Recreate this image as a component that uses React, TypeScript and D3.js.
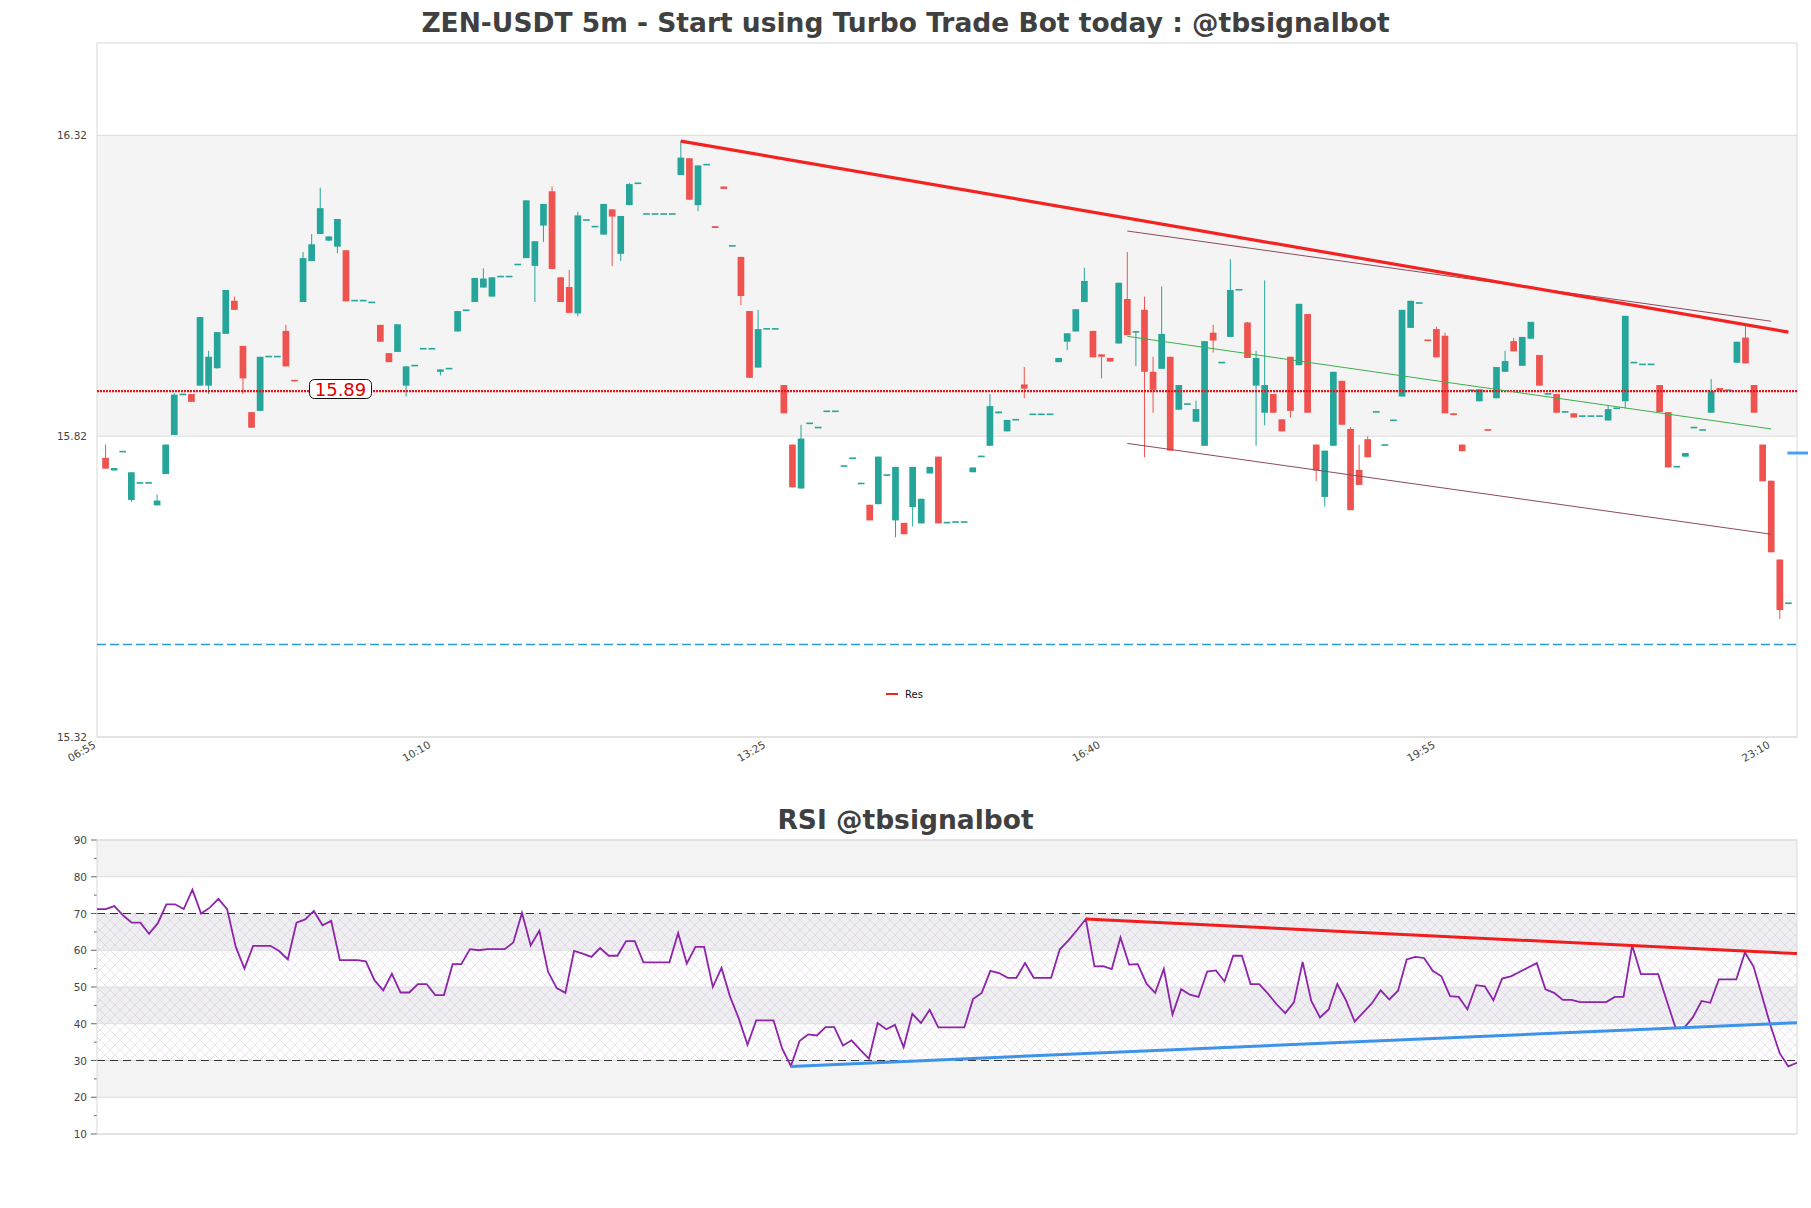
import React from 'react';
import * as d3 from 'd3';

const W = 1811;
const H = 1208;

// ---------- price data (5m candles, 06:55 .. 23:15) ----------
const openP = [
  15.784, 15.763, 15.793, 15.714, 15.741, 15.741, 15.705, 15.757, 15.822, 15.888,
  15.890, 15.904, 15.904, 15.933, 15.990, 16.045, 15.970, 15.860, 15.862, 15.951,
  15.951, 15.995, 15.913, 16.043, 16.111, 16.156, 16.145, 16.135, 16.129, 16.044,
  16.044, 16.041, 16.005, 15.958, 15.960, 15.904, 15.936, 15.964, 15.964, 15.927,
  15.931, 15.994, 16.028, 16.043, 16.067, 16.052, 16.084, 16.084, 16.104, 16.116,
  16.103, 16.170, 16.227, 16.084, 16.068, 16.024, 16.178, 16.167, 16.155, 16.197,
  16.123, 16.204, 16.239, 16.188, 16.188, 16.188, 16.188, 16.254, 16.282, 16.204,
  16.270, 16.169, 16.235, 16.135, 16.118, 16.028, 15.934, 15.997, 15.997, 15.905,
  15.806, 15.733, 15.840, 15.833, 15.860, 15.860, 15.769, 15.782, 15.740, 15.706,
  15.707, 15.754, 15.680, 15.676, 15.702, 15.675, 15.758, 15.786, 15.675, 15.676,
  15.676, 15.760, 15.785, 15.804, 15.858, 15.828, 15.846, 15.906, 15.855, 15.855,
  15.855, 15.943, 15.977, 15.994, 16.043, 15.995, 15.956, 15.950, 15.974, 16.048,
  15.992, 16.030, 15.927, 15.932, 15.952, 15.864, 15.872, 15.844, 15.804, 15.992,
  15.941, 15.985, 16.062, 16.009, 15.904, 15.859, 15.890, 15.848, 15.952, 15.938,
  16.023, 15.806, 15.719, 15.804, 15.912, 15.832, 15.764, 15.815, 15.859, 15.804,
  15.845, 15.886, 16.000, 16.040, 15.980, 15.998, 15.987, 15.858, 15.806, 15.895,
  15.878, 15.831, 15.883, 15.927, 15.978, 15.937, 15.982, 15.955, 15.889, 15.890,
  15.859, 15.858, 15.852, 15.852, 15.852, 15.846, 15.865, 15.878, 15.941, 15.938,
  15.938, 15.905, 15.860, 15.768, 15.786, 15.833, 15.829, 15.859, 15.900, 15.895,
  15.942, 15.984, 15.905, 15.806, 15.746, 15.615, 15.541,
];
const highP = [
  15.806, 15.767, 15.793, 15.760, 15.741, 15.741, 15.723, 15.806, 15.892, 15.888,
  15.890, 16.018, 15.962, 15.993, 16.063, 16.052, 15.970, 15.860, 15.952, 15.951,
  15.951, 16.005, 15.913, 16.126, 16.156, 16.233, 16.152, 16.181, 16.129, 16.044,
  16.044, 16.041, 16.005, 15.958, 16.006, 15.936, 15.936, 15.964, 15.964, 15.931,
  15.931, 16.028, 16.028, 16.083, 16.099, 16.084, 16.084, 16.084, 16.104, 16.212,
  16.144, 16.206, 16.235, 16.084, 16.096, 16.193, 16.178, 16.167, 16.206, 16.197,
  16.186, 16.241, 16.239, 16.188, 16.188, 16.188, 16.188, 16.311, 16.282, 16.270,
  16.270, 16.169, 16.235, 16.135, 16.118, 16.028, 16.030, 15.997, 15.997, 15.905,
  15.806, 15.839, 15.840, 15.833, 15.860, 15.860, 15.769, 15.782, 15.740, 15.706,
  15.786, 15.754, 15.769, 15.676, 15.769, 15.716, 15.769, 15.786, 15.675, 15.676,
  15.676, 15.768, 15.785, 15.890, 15.861, 15.847, 15.846, 15.935, 15.855, 15.855,
  15.855, 15.950, 15.991, 16.031, 16.100, 15.995, 15.956, 15.950, 16.075, 16.126,
  15.994, 16.052, 15.952, 16.069, 15.952, 15.905, 15.872, 15.879, 15.978, 16.005,
  15.941, 16.114, 16.062, 16.010, 15.962, 16.079, 15.890, 15.848, 15.952, 16.040,
  16.023, 15.806, 15.796, 15.927, 15.912, 15.835, 15.806, 15.820, 15.859, 15.804,
  15.845, 16.030, 16.045, 16.040, 15.980, 16.002, 15.992, 15.858, 15.806, 15.895,
  15.898, 15.831, 15.935, 15.962, 15.983, 15.985, 16.010, 15.955, 15.889, 15.890,
  15.859, 15.858, 15.852, 15.852, 15.852, 15.871, 15.865, 16.020, 15.941, 15.938,
  15.938, 15.905, 15.860, 15.768, 15.792, 15.833, 15.829, 15.915, 15.900, 15.895,
  15.977, 16.003, 15.905, 15.806, 15.746, 15.615, 15.543,
];
const lowP = [
  15.766, 15.763, 15.793, 15.711, 15.741, 15.741, 15.705, 15.757, 15.822, 15.888,
  15.877, 15.904, 15.890, 15.932, 15.990, 16.030, 15.890, 15.834, 15.862, 15.951,
  15.951, 15.936, 15.911, 16.043, 16.111, 16.156, 16.145, 16.124, 16.044, 16.044,
  16.044, 16.041, 15.977, 15.943, 15.960, 15.886, 15.936, 15.964, 15.964, 15.921,
  15.931, 15.994, 16.028, 16.043, 16.067, 16.052, 16.084, 16.084, 16.104, 16.116,
  16.043, 16.143, 16.098, 16.043, 16.025, 16.019, 16.178, 16.167, 16.155, 16.103,
  16.111, 16.204, 16.239, 16.188, 16.188, 16.188, 16.188, 16.254, 16.213, 16.194,
  16.270, 16.166, 16.231, 16.135, 16.038, 15.917, 15.934, 15.997, 15.997, 15.858,
  15.735, 15.733, 15.840, 15.833, 15.860, 15.860, 15.769, 15.782, 15.740, 15.680,
  15.707, 15.754, 15.652, 15.657, 15.670, 15.675, 15.758, 15.675, 15.675, 15.676,
  15.676, 15.760, 15.785, 15.804, 15.858, 15.828, 15.846, 15.883, 15.855, 15.855,
  15.855, 15.943, 15.963, 15.994, 16.043, 15.951, 15.916, 15.944, 15.974, 15.988,
  15.937, 15.785, 15.859, 15.932, 15.796, 15.864, 15.872, 15.844, 15.804, 15.959,
  15.941, 15.985, 16.062, 15.950, 15.804, 15.838, 15.859, 15.828, 15.851, 15.938,
  15.859, 15.745, 15.703, 15.804, 15.839, 15.697, 15.739, 15.785, 15.859, 15.804,
  15.845, 15.886, 16.000, 16.040, 15.978, 15.951, 15.858, 15.855, 15.795, 15.895,
  15.878, 15.829, 15.883, 15.927, 15.961, 15.937, 15.982, 15.904, 15.889, 15.859,
  15.859, 15.851, 15.852, 15.852, 15.852, 15.846, 15.865, 15.866, 15.941, 15.938,
  15.938, 15.860, 15.768, 15.768, 15.786, 15.833, 15.829, 15.859, 15.896, 15.895,
  15.942, 15.941, 15.859, 15.745, 15.627, 15.516, 15.541,
];
const closeP = [
  15.766, 15.767, 15.793, 15.760, 15.741, 15.741, 15.713, 15.806, 15.889, 15.888,
  15.877, 16.018, 15.952, 15.993, 16.063, 16.030, 15.916, 15.834, 15.952, 15.951,
  15.951, 15.936, 15.911, 16.116, 16.139, 16.199, 16.152, 16.181, 16.044, 16.044,
  16.044, 16.041, 15.977, 15.943, 16.006, 15.936, 15.936, 15.964, 15.964, 15.931,
  15.931, 16.028, 16.028, 16.083, 16.082, 16.084, 16.084, 16.084, 16.104, 16.212,
  16.144, 16.206, 16.098, 16.043, 16.025, 16.187, 16.178, 16.167, 16.206, 16.185,
  16.186, 16.239, 16.239, 16.188, 16.188, 16.188, 16.188, 16.283, 16.213, 16.270,
  16.270, 16.166, 16.231, 16.135, 16.053, 15.917, 15.998, 15.997, 15.997, 15.858,
  15.735, 15.816, 15.840, 15.833, 15.860, 15.860, 15.769, 15.782, 15.740, 15.680,
  15.786, 15.754, 15.769, 15.657, 15.769, 15.716, 15.769, 15.675, 15.675, 15.676,
  15.676, 15.768, 15.785, 15.870, 15.861, 15.847, 15.846, 15.899, 15.855, 15.855,
  15.855, 15.950, 15.991, 16.031, 16.078, 15.951, 15.952, 15.944, 16.075, 15.988,
  15.994, 15.927, 15.897, 15.990, 15.796, 15.905, 15.872, 15.865, 15.978, 15.979,
  15.941, 16.063, 16.062, 15.950, 15.950, 15.905, 15.859, 15.828, 15.862, 16.040,
  15.859, 15.763, 15.796, 15.927, 15.839, 15.697, 15.739, 15.785, 15.859, 15.804,
  15.845, 16.030, 16.045, 16.040, 15.978, 15.951, 15.858, 15.855, 15.795, 15.895,
  15.898, 15.829, 15.935, 15.945, 15.961, 15.985, 16.010, 15.904, 15.889, 15.859,
  15.859, 15.851, 15.852, 15.852, 15.852, 15.865, 15.865, 16.020, 15.941, 15.938,
  15.938, 15.860, 15.768, 15.768, 15.792, 15.833, 15.829, 15.895, 15.896, 15.895,
  15.977, 15.941, 15.859, 15.745, 15.627, 15.531, 15.543,
];

// ---------- RSI ----------
const rsiValues = [
  71.2, 71.2, 72.0, 69.5, 67.5, 67.5, 64.5, 67.3, 72.5, 72.5,
  71.2, 76.5, 70.0, 71.6, 74.0, 71.2, 60.9, 55.0, 61.2, 61.2,
  61.2, 59.8, 57.5, 67.5, 68.4, 70.7, 66.8, 68.0, 57.3, 57.3,
  57.3, 57.0, 51.8, 49.1, 53.6, 48.5, 48.5, 50.8, 50.8, 47.8,
  47.8, 56.2, 56.2, 60.3, 60.0, 60.3, 60.3, 60.3, 62.1, 70.2,
  61.3, 65.3, 54.2, 49.7, 48.4, 59.8, 59.1, 58.2, 60.6, 58.5,
  58.5, 62.5, 62.5, 56.7, 56.7, 56.7, 56.7, 64.7, 56.4, 60.9,
  60.9, 50.0, 55.2, 47.3, 41.4, 34.3, 40.9, 40.9, 40.9, 33.2,
  28.5, 35.3, 37.1, 36.8, 39.1, 39.1, 34.1, 35.5, 32.9, 30.5,
  40.2, 38.5, 39.7, 33.6, 42.7, 40.2, 43.8, 39.0, 39.0, 39.0,
  39.0, 46.7, 48.4, 54.4, 53.8, 52.5, 52.5, 56.5, 52.5, 52.5,
  52.5, 60.2, 62.7, 65.5, 68.5, 55.6, 55.7, 54.9, 63.5, 56.1,
  56.2, 50.9, 48.4, 54.9, 42.5, 49.4, 47.9, 47.3, 54.2, 54.5,
  51.5, 58.5, 58.5, 50.8, 50.8, 48.2, 45.3, 42.9, 45.8, 56.8,
  46.2, 41.7, 43.9, 50.8, 46.4, 40.6, 43.1, 45.6, 49.1, 46.6,
  49.0, 57.5, 58.2, 57.9, 54.4, 52.9, 47.5, 47.3, 43.9, 50.5,
  50.2, 46.4, 52.3, 52.9, 54.1, 55.3, 56.5, 49.4, 48.4, 46.5,
  46.5, 45.9, 45.9, 45.9, 45.9, 47.3, 47.3, 61.3, 53.5, 53.5,
  53.5, 46.1, 38.9, 38.9, 41.8, 46.2, 45.7, 52.1, 52.1, 52.1,
  59.4, 55.5, 47.3, 39.1, 32.0, 28.4, 29.4,
];

// ---------- axes / annotations ----------
const xTickIndex = [0, 39, 78, 117, 156, 195];
const xTickLabels = ['06:55', '10:10', '13:25', '16:40', '19:55', '23:10'];
const priceTicks = [15.32, 15.82, 16.32];
const priceDomain = [15.32, 16.4735];
const rsiTicks = [10, 20, 30, 40, 50, 60, 70, 80, 90];
const rsiMinorTicks = [15, 25, 35, 45, 55, 65, 75, 85];
const supportLevel = 15.895;
const supportLabel = '15.89';
const lowerDashedLevel = 15.4737;
const lastPriceMarker = 15.792;
const resLine = [[67, 16.3105], [196, 15.993]];
const channelUpper = [[119, 16.161], [194, 16.011]];
const channelMid = [[119, 15.986], [194, 15.832]];
const channelLower = [[119, 15.808], [194, 15.657]];
const rsiResLine = [[114, 68.5], [196, 59.1]];
const rsiSupLine = [[80, 28.4], [196, 40.3]];

const UP = '#26a69a';
const DOWN = '#ef5350';
const FONT = '"DejaVu Sans", Verdana, sans-serif';

export default function App() {
  const L = 97, R = 1797, T = 43, B = 737;
  const RT = 840, RB = 1134;
  const n = closeP.length;
  const x = d3.scaleLinear().domain([-1, n]).range([L, R]);
  const y = d3.scaleLinear().domain(priceDomain).range([B, T]);
  const xr = d3.scaleLinear().domain([0, rsiValues.length - 1]).range([L, R]);
  const yr = d3.scaleLinear().domain([10, 90]).range([RB, RT]);
  const step = x(1) - x(0);
  const bw = step * 0.78;

  const rsiPath = d3.line<number>().x((_, i) => xr(i)).y((v) => yr(v))(rsiValues) || '';

  const bands = [
    [80, 90, '#f3f3f3'], [70, 80, '#ffffff'], [60, 70, '#efeef1'], [50, 60, '#ffffff'],
    [40, 50, '#efeef1'], [30, 40, '#ffffff'], [20, 30, '#f3f3f3'], [10, 20, '#ffffff'],
  ] as [number, number, string][];

  const seg = (pts: number[][], sx: any, sy: any) => ({
    x1: sx(pts[0][0]), y1: sy(pts[0][1]), x2: sx(pts[1][0]), y2: sy(pts[1][1]),
  });

  return (
    <svg width={W} height={H} style={{ position: 'absolute', left: 0, top: 0, background: '#fff' }}
      fontFamily={FONT}>
      <defs>
        <pattern id="hatch" width="10" height="10" patternUnits="userSpaceOnUse">
          <path d="M0,0 L10,10 M10,0 L0,10" stroke="#c9bcd6" strokeWidth="0.6" opacity="0.7" />
        </pattern>
        <clipPath id="mainClip"><rect x={L} y={T} width={R - L} height={B - T} /></clipPath>
      </defs>
      <rect x={0} y={0} width={W} height={H} fill="#fff" />

      {/* ---------- main chart ---------- */}
      <text x={905.5} y={32} textAnchor="middle" fontSize={26.5} fontWeight="bold" fill="#404040">
        ZEN-USDT 5m - Start using Turbo Trade Bot today : @tbsignalbot
      </text>
      <rect x={L} y={y(16.32)} width={R - L} height={y(15.82) - y(16.32)} fill="#f4f4f4" />
      {priceTicks.map((p) => (
        <g key={p}>
          <line x1={L} x2={R} y1={y(p)} y2={y(p)} stroke="#dcdcdc" strokeWidth={1} />
          <text x={87} y={y(p) + 4} textAnchor="end" fontSize={10.5} fill="#444">{p.toFixed(2)}</text>
        </g>
      ))}
      <rect x={L} y={T} width={R - L} height={B - T} fill="none" stroke="#d9d9d9" strokeWidth={1} />

      <g clipPath="url(#mainClip)">
        {closeP.map((c, i) => {
          const o = openP[i];
          const up = c >= o;
          const col = up ? UP : DOWN;
          const cx = x(i);
          const top = y(Math.max(o, c));
          const bot = y(Math.min(o, c));
          const h = Math.max(bot - top, 1.6);
          return (
            <g key={i}>
              <line x1={cx} x2={cx} y1={y(highP[i])} y2={y(lowP[i])} stroke={col} strokeWidth={1} />
              <rect x={cx - bw / 2} y={bot - h} width={bw} height={h} fill={col} />
            </g>
          );
        })}
        <line x1={L} x2={R} y1={y(supportLevel)} y2={y(supportLevel)} stroke="#e8141c" strokeWidth={2.2}
          strokeDasharray="2,1" />
        <line x1={L} x2={R} y1={y(lowerDashedLevel)} y2={y(lowerDashedLevel)} stroke="#2a9ad8"
          strokeWidth={1.5} strokeDasharray="9,4" />
        <line {...seg(channelUpper, x, y)} stroke="#8d4a5c" strokeWidth={1} />
        <line {...seg(channelLower, x, y)} stroke="#8d4a5c" strokeWidth={1} />
        <line {...seg(channelMid, x, y)} stroke="#3fae4a" strokeWidth={1} />
        <line {...seg(resLine, x, y)} stroke="#f52222" strokeWidth={3.2} />
      </g>
      <line x1={x(n - 1) - 1} x2={1808} y1={y(lastPriceMarker)} y2={y(lastPriceMarker)} stroke="#4a9ff2"
        strokeWidth={3} />

      <rect x={309.5} y={379.5} width={62} height={19} rx={5} fill="#fff" stroke="#111" strokeWidth={1} />
      <text x={340.5} y={395.5} textAnchor="middle" fontSize={18} fill="#e00000">{supportLabel}</text>

      {xTickIndex.map((ti, k) => (
        <text key={ti} transform={`translate(${x(ti) - 9},${B + 10}) rotate(-30)`} textAnchor="end"
          fontSize={10.5} fill="#444">{xTickLabels[k]}</text>
      ))}

      <line x1={886} x2={898} y1={694} y2={694} stroke="#f52222" strokeWidth={2} />
      <text x={905} y={697.5} fontSize={10} fill="#111">Res</text>

      {/* ---------- RSI ---------- */}
      <text x={905.5} y={829} textAnchor="middle" fontSize={26.5} fontWeight="bold" fill="#404040">
        RSI @tbsignalbot
      </text>
      {bands.map(([a, b, c]) => (
        <rect key={a} x={L} y={yr(b)} width={R - L} height={yr(a) - yr(b)} fill={c} />
      ))}
      <rect x={L} y={yr(70)} width={R - L} height={yr(30) - yr(70)} fill="url(#hatch)" />
      {rsiTicks.map((t) => (
        <g key={t}>
          <line x1={L} x2={R} y1={yr(t)} y2={yr(t)} stroke="#dedede" strokeWidth={1} />
          <line x1={L - 6} x2={L} y1={yr(t)} y2={yr(t)} stroke="#666" strokeWidth={1} />
          <text x={87} y={yr(t) + 4} textAnchor="end" fontSize={10.5} fill="#444">{t}</text>
        </g>
      ))}
      {rsiMinorTicks.map((t) => (
        <line key={t} x1={L - 3} x2={L} y1={yr(t)} y2={yr(t)} stroke="#666" strokeWidth={1} />
      ))}
      <line x1={L} x2={R} y1={yr(70)} y2={yr(70)} stroke="#333" strokeWidth={1.2} strokeDasharray="8,5" />
      <line x1={L} x2={R} y1={yr(30)} y2={yr(30)} stroke="#333" strokeWidth={1.2} strokeDasharray="8,5" />
      <rect x={L} y={RT} width={R - L} height={RB - RT} fill="none" stroke="#d9d9d9" strokeWidth={1} />
      <path d={rsiPath} fill="none" stroke="#8e24aa" strokeWidth={1.8} />
      <line {...seg(rsiResLine, xr, yr)} stroke="#f01e1e" strokeWidth={3} />
      <line {...seg(rsiSupLine, xr, yr)} stroke="#3d93ea" strokeWidth={3} />
    </svg>
  );
}
